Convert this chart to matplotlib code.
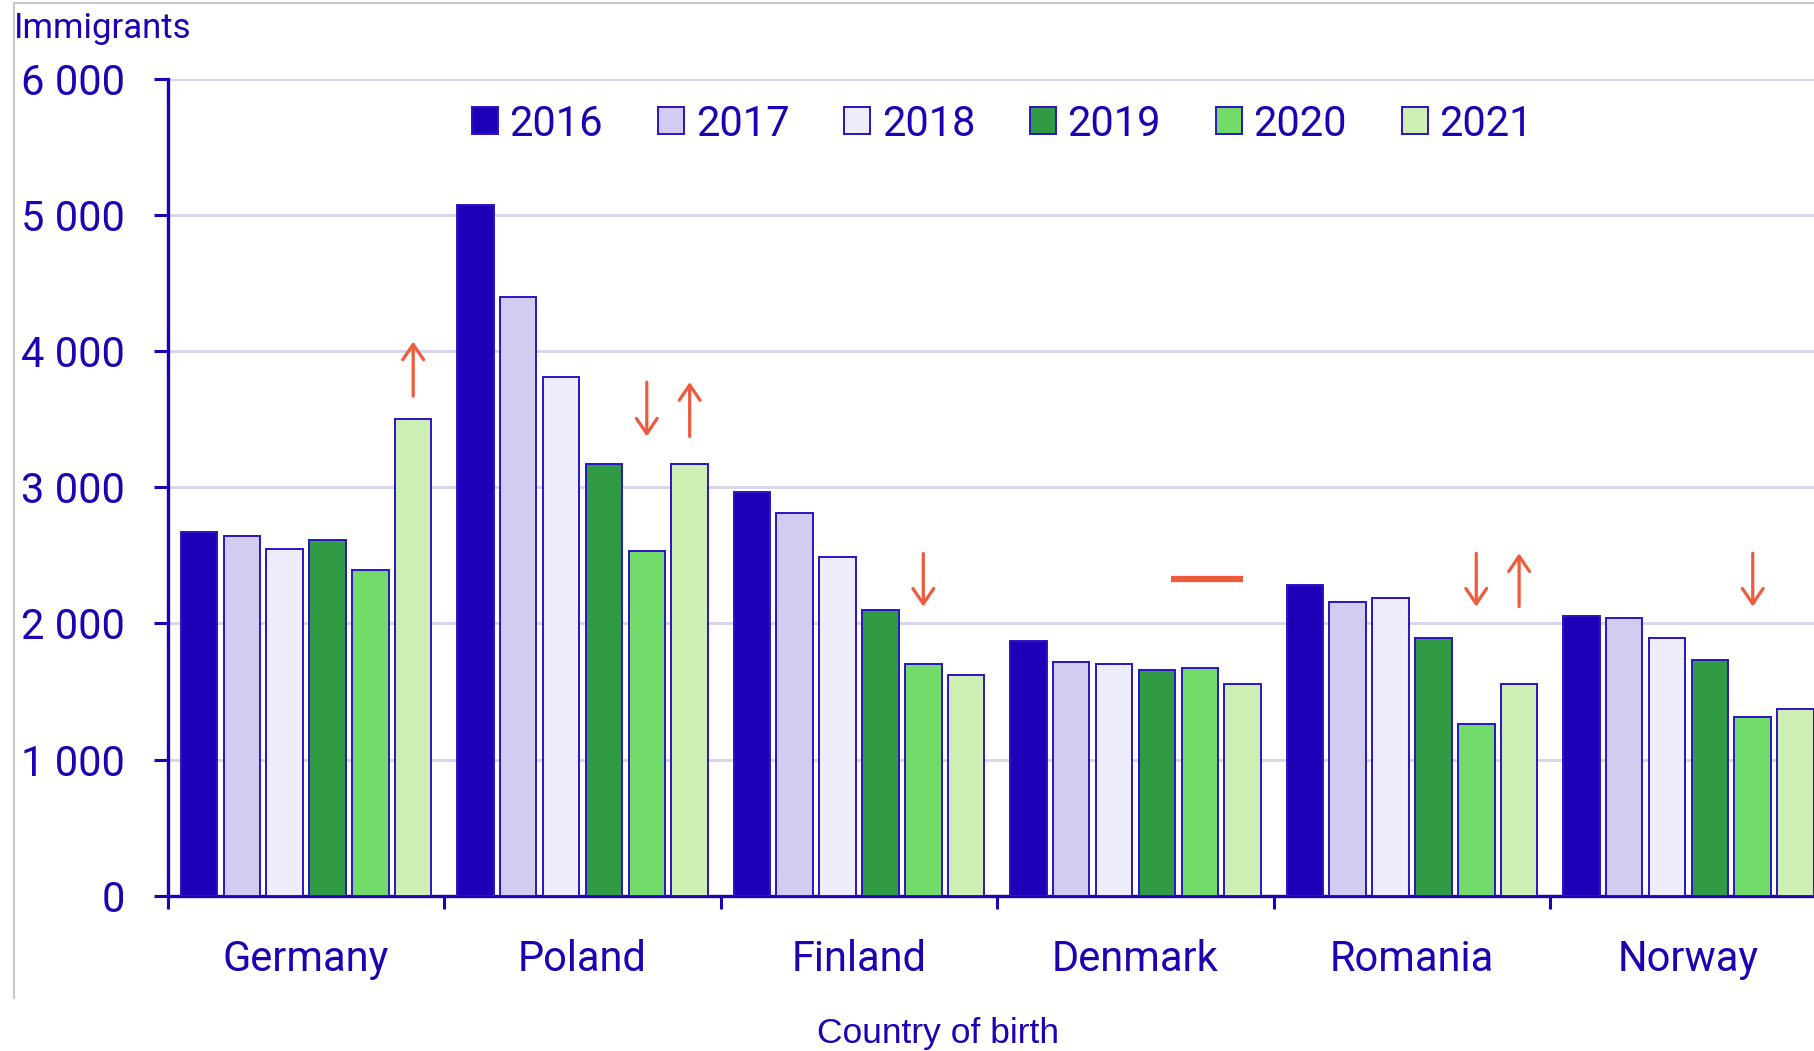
import matplotlib
matplotlib.use("Agg")
import matplotlib.pyplot as plt
import numpy as np
from matplotlib.lines import Line2D

# data
countries = ["Germany", "Poland", "Finland", "Denmark", "Romania", "Norway"]
years = ["2016", "2017", "2018", "2019", "2020", "2021"]
v2016 = [2670, 5070, 2965, 1870, 2280, 2055]
v2017 = [2640, 4400, 2810, 1715, 2160, 2040]
v2018 = [2550, 3810, 2490, 1700, 2190, 1895]
v2019 = [2610, 3170, 2100, 1655, 1895, 1735]
v2020 = [2390, 2530, 1700, 1675, 1265, 1315]
v2021 = [3500, 3170, 1625, 1555, 1555, 1375]
series = [v2016, v2017, v2018, v2019, v2020, v2021]

# change markers: (country index, year index, y from, y to)
arrows = [
    (0, 5, 3670, 4070),
    (1, 4, 3772, 3373),
    (1, 5, 3373, 3772),
    (2, 4, 2515, 2124),
    (4, 4, 2515, 2124),
    (4, 5, 2124, 2515),
    (5, 4, 2515, 2124),
]
flat_marks = [(3, 2328)]

fills = ["#1f00b9", "#d2cdf0", "#eeedfc", "#319a44", "#72db6a", "#cdefb4"]
edge = "#2a14c4"
blue = "#1f00b4"
red = "#ee5a3c"

plt.rcParams["font.family"] = ["Roboto", "DejaVu Sans"]

fig = plt.figure(figsize=(18.14, 10.51), dpi=100)
ax = fig.add_axes([0.0925, 0.1476, 0.9145, 0.7775])

x = np.arange(len(countries))
pitch = 0.155
width = 0.132
offsets = (np.arange(len(years)) - 2.5) * pitch

for i in range(len(years)):
    ax.bar(x + offsets[i], series[i], width, color=fills[i], edgecolor=edge,
           linewidth=1.4, label=years[i], zorder=3)

# arrows above the last bars
for g, b, y0, y1 in arrows:
    xp = x[g] + offsets[b]
    ax.annotate("", xy=(xp, y1), xytext=(xp, y0),
                arrowprops=dict(arrowstyle="->,head_length=1.1,head_width=0.75",
                                color=red, lw=2.3, shrinkA=0, shrinkB=0),
                zorder=5)
for g, yv in flat_marks:
    xc = x[g] + offsets[4] + 0.026
    ax.plot([xc - 0.13, xc + 0.13], [yv, yv], color=red, lw=4.5,
            solid_capstyle="butt", zorder=5)

ax.set_xlim(-0.5, 5.5)
ax.set_ylim(0, 6000)

ax.set_yticks(np.arange(0, 6001, 1000))
ax.set_yticklabels([f"{v:,}".replace(",", " ") for v in range(0, 6001, 1000)])
ax.yaxis.grid(True, color="#d6d4ef", linewidth=2.0)
ax.set_axisbelow(True)

ax.set_xticks(x)
ax.set_xticklabels(countries)
ax.set_xticks(np.arange(-0.5, 6.0, 1.0), minor=True)
ax.tick_params(axis="x", which="major", length=0, pad=31, labelsize=30,
               labelcolor=blue)
ax.tick_params(axis="x", which="minor", length=9, width=2.2, color=blue,
               direction="out")
ax.tick_params(axis="y", length=10, width=2.2, color=blue, pad=21,
               labelsize=30, labelcolor=blue)

for s in ["top", "right"]:
    ax.spines[s].set_visible(False)
for s in ["left", "bottom"]:
    ax.spines[s].set_color(blue)
    ax.spines[s].set_linewidth(2.4)

leg = ax.legend(loc="center left", bbox_to_anchor=(0.2602, 0.882),
                bbox_transform=fig.transFigure, ncol=6, frameon=False,
                fontsize=30, handlelength=0.62, handleheight=0.62,
                handletextpad=0.28, columnspacing=1.32, borderpad=0,
                borderaxespad=0)
for t in leg.get_texts():
    t.set_color(blue)

fig.text(0.0077, 0.973, "Immigrants", fontsize=25, color=blue,
         ha="left", va="center")
fig.text(0.517, 0.0165, "Country of birth", fontsize=25.5, color=blue,
         ha="center", va="center", family=["Liberation Sans", "DejaVu Sans"])

# light frame on top and left
fig.add_artist(Line2D([0.0077, 0.0077], [0.0507, 0.9967], color="#c8c8c8",
                      lw=1.5, transform=fig.transFigure))
fig.add_artist(Line2D([0.0077, 1.0], [0.9967, 0.9967], color="#c8c8c8",
                      lw=1.5, transform=fig.transFigure))

fig.savefig("out.png", dpi=100)
